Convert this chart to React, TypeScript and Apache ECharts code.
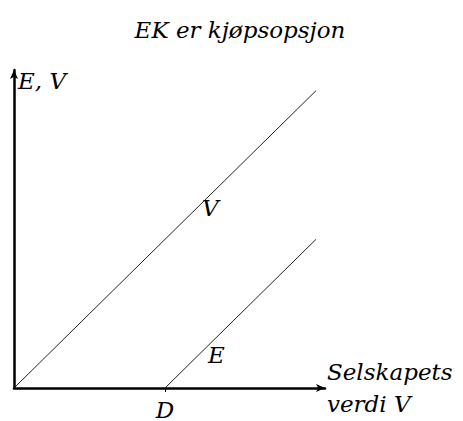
import React, { useEffect, useRef } from "react";
import * as echarts from "echarts";

const valueLine: number[][] = [[0, 0], [2, 2]];
const equityLine: number[][] = [[1, 0], [2, 1]];
const tickValues: number[] = [1];
const tickLabels: string[] = ["D"];
const titleText = "EK er kjøpsopsjon";
const yName = "E, V";
const xName = "Selskapets\nverdi V";
const valueLabelAt: number[] = [1.3, 1.21];
const equityLabelAt: number[] = [1.34, 0.22];

const FONT = "DejaVu Serif";
const FS = 23;

export default function App() {
  const ref = useRef<HTMLDivElement>(null);
  useEffect(() => {
    if (!ref.current) return;
    const chart = echarts.init(ref.current, undefined, { renderer: "svg" });
    const lbl = {
      show: true,
      color: "#000",
      fontFamily: FONT,
      fontStyle: "italic",
      fontSize: FS,
      position: "inside",
    };
    chart.setOption({
      animation: false,
      backgroundColor: "#ffffff",
      grid: { left: 14, right: 138, top: 70, bottom: 28, containLabel: false },
      xAxis: {
        type: "value",
        min: 0,
        max: 311 / 151,
        splitLine: { show: false },
        axisLine: {
          show: true,
          lineStyle: { color: "#000", width: 2.5 },
          symbol: ["none", "arrow"],
          symbolSize: [6, 9],
        },
        axisTick: { show: true, customValues: tickValues, length: 4, lineStyle: { color: "#000", width: 1 } },
        axisLabel: {
          show: true,
          customValues: tickValues,
          formatter: (v: number) => {
            const i = tickValues.indexOf(v);
            return i >= 0 ? tickLabels[i] : "";
          },
          color: "#000",
          fontFamily: FONT,
          fontStyle: "italic",
          fontSize: FS,
          margin: 10,
        },
        name: xName,
        nameLocation: "end",
        nameGap: 2,
        nameTextStyle: {
          color: "#000",
          fontFamily: FONT,
          fontStyle: "italic",
          fontSize: FS,
          lineHeight: 32,
          align: "left",
          verticalAlign: "middle",
        },
      },
      yAxis: {
        type: "value",
        min: 0,
        max: 323 / 151,
        splitLine: { show: false },
        axisLine: {
          show: true,
          lineStyle: { color: "#000", width: 2.5 },
          symbol: ["none", "arrow"],
          symbolSize: [6, 9],
        },
        axisTick: { show: false },
        axisLabel: { show: false },
      },
      graphic: [
        {
          type: "text",
          x: 240,
          y: 30,
          style: {
            text: titleText,
            fontFamily: FONT,
            fontStyle: "italic",
            fontSize: FS,
            fill: "#000",
            align: "center",
            verticalAlign: "middle",
          },
        },
        {
          type: "text",
          x: 18,
          y: 81,
          style: {
            text: yName,
            fontFamily: FONT,
            fontStyle: "italic",
            fontSize: FS,
            fill: "#000",
            align: "left",
            verticalAlign: "middle",
          },
        },
      ],
      series: [
        {
          type: "line",
          data: valueLine,
          symbol: "none",
          lineStyle: { color: "#222", width: 1 },
          markPoint: {
            symbol: "circle",
            symbolSize: 1,
            itemStyle: { color: "rgba(0,0,0,0)" },
            data: [{ coord: valueLabelAt, value: "V" }],
            label: { ...lbl, formatter: "V" },
          },
        },
        {
          type: "line",
          data: equityLine,
          symbol: "none",
          lineStyle: { color: "#222", width: 1 },
          markPoint: {
            symbol: "circle",
            symbolSize: 1,
            itemStyle: { color: "rgba(0,0,0,0)" },
            data: [{ coord: equityLabelAt, value: "E" }],
            label: { ...lbl, formatter: "E" },
          },
        },
      ],
    });
    return () => chart.dispose();
  }, []);
  return <div ref={ref} style={{ width: 463, height: 421, position: "absolute", left: 0, top: 0 }} />;
}
